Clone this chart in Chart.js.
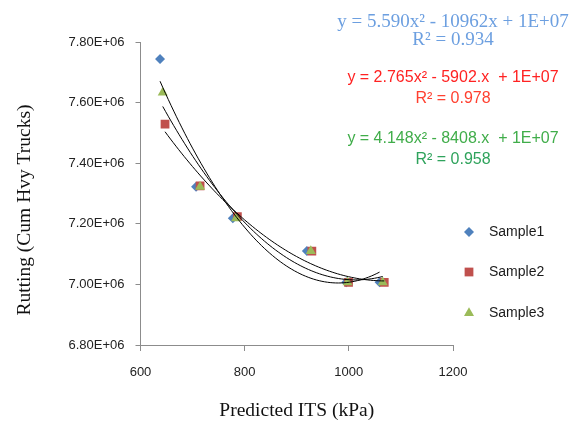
<!DOCTYPE html>
<html><head><meta charset="utf-8">
<script src="https://cdn.jsdelivr.net/npm/chart.js@4.4.0/dist/chart.umd.min.js"></script>
<style>html,body{margin:0;padding:0;background:#fff;}canvas{display:block;}</style>
</head><body>
<canvas id="c" width="575" height="437"></canvas>
<script>
// ---- data ----
const seriesNames = ['Sample1', 'Sample2', 'Sample3'];
const sample1X = [637.5, 706.7, 777.2, 919.4, 995.0, 1059.0];
const sample1Y = [7.744e6, 7.3225e6, 7.218e6, 7.110e6, 7.007e6, 7.007e6];
const sample2X = [647.1, 714.4, 786.0, 929.0, 999.4, 1068.0];
const sample2Y = [7.529e6, 7.325e6, 7.2235e6, 7.110e6, 7.007e6, 7.007e6];
const sample3X = [642.7, 714.4, 783.5, 927.0, 997.5, 1065.0];
const sample3Y = [7.633e6, 7.322e6, 7.218e6, 7.110e6, 7.007e6, 7.007e6];
const xTicks = [600, 800, 1000, 1200];
const yTicks = [6.8e6, 7.0e6, 7.2e6, 7.4e6, 7.6e6, 7.8e6];
const equationLines = [
  'y = 5.590x\u00B2 - 10962x + 1E+07', 'R\u00B2 = 0.934',
  'y = 2.765x\u00B2 - 5902.x  + 1E+07', 'R\u00B2 = 0.978',
  'y = 4.148x\u00B2 - 8408.x  + 1E+07', 'R\u00B2 = 0.958'
];
const xTitle = 'Predicted ITS (kPa)';
const yTitle = 'Rutting (Cum Hvy Trucks)';

// ---- styles ----
const colors = ['#4f81bd', '#c0504d', '#9bbb59'];
const styles = ['rectRot', 'rect', 'triangle'];
const radii = [5, 6.2, 5.8];
const eqColors = ['#6c9fe0', '#6c9fe0', '#ff2222', '#ff4030', '#40ad4a', '#2fa35c'];
const eqFonts = ['19px "Liberation Serif"', '19px "Liberation Serif"', '16px "Liberation Sans"', '16px "Liberation Sans"', '16px "Liberation Sans"', '16px "Liberation Sans"'];
const eqBaselines = [27, 45, 82, 103, 143, 164];

const xs = [sample1X, sample2X, sample3X];
const ys = [sample1Y, sample2Y, sample3Y];

// least-squares quadratic trendline (as Excel's polynomial order 2)
function quadFit(x, y) {
  let S = [0, 0, 0, 0, 0], T = [0, 0, 0];
  for (let i = 0; i < x.length; i++) {
    const u = x[i] / 1000;
    for (let k = 0; k < 5; k++) S[k] += Math.pow(u, k);
    for (let k = 0; k < 3; k++) T[k] += y[i] * Math.pow(u, k);
  }
  const A = [[S[0], S[1], S[2], T[0]], [S[1], S[2], S[3], T[1]], [S[2], S[3], S[4], T[2]]];
  for (let c = 0; c < 3; c++) {
    for (let r = c + 1; r < 3; r++) {
      const f = A[r][c] / A[c][c];
      for (let k = c; k < 4; k++) A[r][k] -= f * A[c][k];
    }
  }
  const b = [0, 0, 0];
  for (let r = 2; r >= 0; r--) {
    let s = A[r][3];
    for (let k = r + 1; k < 3; k++) s -= A[r][k] * b[k];
    b[r] = s / A[r][r];
  }
  return v => { const u = v / 1000; return b[0] + b[1] * u + b[2] * u * u; };
}
function trendPoints(x, y) {
  const f = quadFit(x, y);
  const lo = Math.min(...x), hi = Math.max(...x);
  const pts = [];
  for (let i = 0; i <= 80; i++) { const v = lo + (hi - lo) * i / 80; pts.push({x: v, y: f(v)}); }
  return pts;
}

const datasets = [];
for (let s = 0; s < 3; s++) {
  datasets.push({
    type: 'line', label: seriesNames[s] + ' trend', data: trendPoints(xs[s], ys[s]),
    borderColor: '#000', borderWidth: 1, pointRadius: 0, fill: false, tension: 0, order: 0
  });
}
for (let s = 0; s < 3; s++) {
  datasets.push({
    type: 'scatter', label: seriesNames[s],
    data: xs[s].map((v, i) => ({x: v, y: ys[s][i]})),
    pointStyle: styles[s], pointRadius: radii[s], pointHoverRadius: radii[s],
    backgroundColor: colors[s], borderColor: colors[s], pointBorderWidth: 0,
    order: 3 - s
  });
}

function fmtE(v) {
  const e = Math.floor(Math.log10(v) + 1e-9);
  const m = v / Math.pow(10, e);
  return m.toFixed(2) + 'E+' + String(e).padStart(2, '0');
}

const overlay = {
  id: 'overlay',
  afterDraw(chart) {
    const ctx = chart.ctx;
    ctx.save();
    // equations
    ctx.textAlign = 'center';
    ctx.textBaseline = 'alphabetic';
    for (let i = 0; i < equationLines.length; i++) {
      ctx.font = eqFonts[i];
      ctx.fillStyle = eqColors[i];
      ctx.fillText(equationLines[i], 453, eqBaselines[i]);
    }
    // legend
    const ly = [232, 272, 313];
    for (let s = 0; s < 3; s++) {
      ctx.fillStyle = colors[s];
      ctx.strokeStyle = colors[s];
      Chart.helpers.drawPoint(ctx, {pointStyle: styles[s], radius: radii[s], rotation: 0, borderWidth: 0}, 469, ly[s]);
      ctx.fillStyle = '#1a1a1a';
      ctx.font = '14px "Liberation Sans"';
      ctx.textAlign = 'left';
      ctx.textBaseline = 'middle';
      ctx.fillText(seriesNames[s], 489, ly[s]);
    }
    // y axis title
    ctx.translate(25, 210);
    ctx.rotate(-Math.PI / 2);
    ctx.font = '19.5px "Liberation Serif"';
    ctx.fillStyle = '#111';
    ctx.textAlign = 'center';
    ctx.textBaseline = 'middle';
    ctx.fillText(yTitle, 0, 0);
    ctx.restore();
  }
};

new Chart(document.getElementById('c'), {
  data: { datasets },
  options: {
    responsive: false, animation: false, devicePixelRatio: 1,
    layout: { padding: { left: 0, right: 122, top: 42, bottom: 0 } },
    plugins: { legend: { display: false }, tooltip: { enabled: false } },
    scales: {
      x: {
        type: 'linear', position: 'bottom', min: 600, max: 1200,
        afterBuildTicks: s => { s.ticks = xTicks.map(v => ({value: v})); },
        afterFit: s => { s.height = 92; },
        grid: { drawOnChartArea: false, drawTicks: true, tickLength: 6, color: '#8c8c8c', lineWidth: 1 },
        border: { color: '#8c8c8c', width: 1 },
        ticks: { color: '#222', font: { family: 'Liberation Sans', size: 13 }, padding: 14, maxRotation: 0, callback: v => String(v) },
        title: { display: true, text: xTitle, color: '#111', font: { family: 'Liberation Serif', size: 19.5 }, padding: { top: 0, bottom: 14 } }
      },
      y: {
        type: 'linear', position: 'left', min: 6.8e6, max: 7.8e6,
        afterBuildTicks: s => { s.ticks = yTicks.map(v => ({value: v})); },
        afterFit: s => { s.width = 140.5; },
        grid: { drawOnChartArea: false, drawTicks: true, tickLength: 5, color: '#8c8c8c', lineWidth: 1 },
        border: { color: '#8c8c8c', width: 1 },
        ticks: { color: '#222', font: { family: 'Liberation Sans', size: 13 }, padding: 11, callback: v => fmtE(v) }
      }
    }
  },
  plugins: [overlay]
});
</script>
</body></html>
